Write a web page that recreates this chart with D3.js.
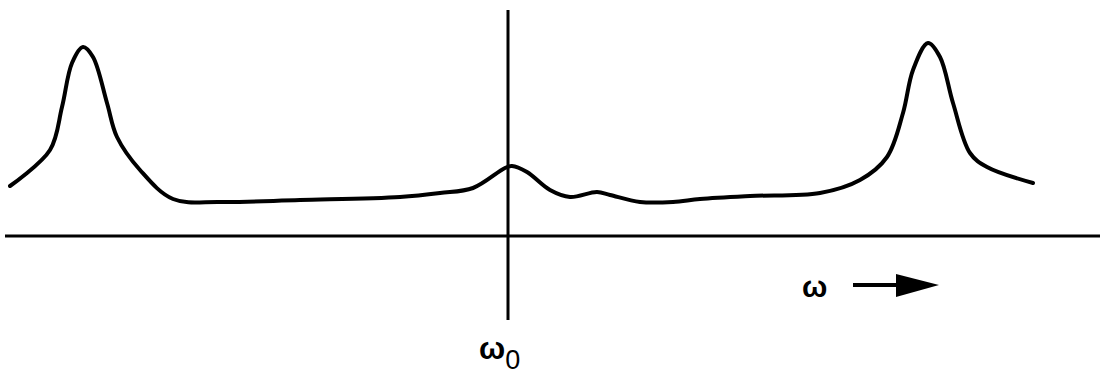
<!DOCTYPE html>
<html>
<head>
<meta charset="utf-8">
<script src="https://cdn.jsdelivr.net/npm/d3@7"></script>
<style>
  body { margin: 0; background: #fff; }
  svg { display: block; }
  .lbl { font-family: "Liberation Sans", Arial, sans-serif; fill: #000; font-weight: bold; }
</style>
</head>
<body>
<svg width="1102" height="377"></svg>
<script>
// frequency offset from omega0 (arbitrary units) and response amplitude
const omega = [-4.98, -4.58, -4.46, -4.36, -4.25, -4.15, -4.01, -3.91, -3.68, -3.35,
  -2.88, -2.08, -1.08, -0.68, -0.35, -0.03, 0.04, 0.19, 0.42, 0.62,
  0.89, 1.02, 1.32, 1.65, 1.92, 2.42, 3.12, 3.52, 3.79, 3.95,
  4.05, 4.20, 4.32, 4.45, 4.62, 4.79, 5.25];
const amplitude = [0.50, 0.86, 1.29, 1.73, 1.89, 1.79, 1.33, 0.99, 0.66, 0.37,
  0.34, 0.36, 0.39, 0.43, 0.48, 0.68, 0.70, 0.64, 0.46, 0.39,
  0.44, 0.41, 0.34, 0.34, 0.37, 0.40, 0.43, 0.56, 0.79, 1.23,
  1.66, 1.93, 1.79, 1.33, 0.83, 0.69, 0.53];
const axisLabels = ["ω", "0"];

const svg = d3.select("svg");
const x = d3.scaleLinear().domain([-5.08, 5.94]).range([0, 1102]);
const y = d3.scaleLinear().domain([0, 2.36]).range([236, 0]);

const data = omega.map((w, i) => ({ w: w, a: amplitude[i] }));

// baseline
svg.append("line")
  .attr("x1", 5).attr("x2", 1100)
  .attr("y1", y(0)).attr("y2", y(0))
  .attr("stroke", "#000").attr("stroke-width", 3);

// omega0 marker
svg.append("line")
  .attr("x1", x(0)).attr("x2", x(0))
  .attr("y1", 10).attr("y2", 320)
  .attr("stroke", "#000").attr("stroke-width", 3);

const line = d3.line()
  .x(d => x(d.w))
  .y(d => y(d.a))
  .curve(d3.curveCatmullRom.alpha(0.5));

svg.append("path")
  .datum(data)
  .attr("d", line)
  .attr("fill", "none")
  .attr("stroke", "#000")
  .attr("stroke-width", 4)
  .attr("stroke-linecap", "round")
  .attr("stroke-linejoin", "round");

// omega0 label
const t0 = svg.append("text").attr("class", "lbl")
  .attr("x", x(0) - 29).attr("y", 359)
  .attr("font-size", 31);
t0.append("tspan").text(axisLabels[0]);
t0.append("tspan").attr("dy", 10).attr("font-size", 27).attr("font-weight", "normal").text(axisLabels[1]);

// omega direction label + arrow
svg.append("text").attr("class", "lbl")
  .attr("x", 802).attr("y", 297)
  .attr("font-size", 30)
  .text(axisLabels[0]);

svg.append("line")
  .attr("x1", 853).attr("x2", 900)
  .attr("y1", 285).attr("y2", 285)
  .attr("stroke", "#000").attr("stroke-width", 4);

svg.append("path")
  .attr("d", d3.line()([[896, 274], [939, 285], [896, 297]]) + "Z")
  .attr("fill", "#000");
</script>
</body>
</html>
